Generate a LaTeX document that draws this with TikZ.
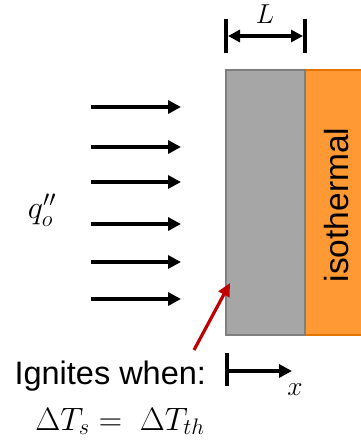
\documentclass[tikz,border=0pt]{standalone}
\usepackage{fontspec}
\setmainfont{Liberation Sans}
\usetikzlibrary{arrows.meta}
\definecolor{Slab}{HTML}{A6A6A6}
\definecolor{SlabEdge}{HTML}{7F7F7F}
\definecolor{Hot}{HTML}{FF9933}
\definecolor{HotEdge}{HTML}{E57300}
\definecolor{Pointer}{HTML}{C00000}
\tikzset{
  fluxarrow/.style={-{Triangle[length=13pt,width=13pt]},line width=3.8pt,draw=black},
  dimarrow/.style={{Triangle[length=12pt,width=12pt]}-{Triangle[length=12pt,width=12pt]},line width=3.4pt,draw=black},
  axisarrow/.style={-{Triangle[length=13pt,width=13pt]},line width=3.6pt,draw=black},
  tickbar/.style={line width=3.8pt,draw=black},
  redarrow/.style={-{Triangle[length=13pt,width=12pt]},line width=3.2pt,draw=Pointer},
  slabbox/.style={fill=Slab,draw=SlabEdge,line width=2pt},
  hotbox/.style={fill=Hot,draw=HotEdge,line width=2pt},
  bigtext/.style={font=\fontsize{32.5}{38}\selectfont},
  mathlabel/.style={font=\fontsize{24}{28}\selectfont,transform shape,scale=1.3},
  smallmath/.style={font=\fontsize{24}{28}\selectfont,transform shape,scale=1.1},
}

\begin{document}
\begin{tikzpicture}[x=1pt,y=-1pt]
    \clip (0,0) rectangle (361,442);
    \fill[white] (0,0) rectangle (361,442);

    % wall and slab
    \draw[hotbox] (305,70) rectangle (372,335);
    \draw[slabbox] (226,70) rectangle (305,335);
    \node[bigtext,font=\fontsize{33.5}{38}\selectfont,rotate=90] (iso) at (337,205) {isothermal};

    % incident flux
    \foreach \i/\yy in {1/107,2/147,3/182,4/224,5/262,6/299}{
      \coordinate (fs\i) at (91,\yy);
      \coordinate (fe\i) at (181,\yy);
      \draw[fluxarrow] (fs\i) -- (fe\i);
    }
    \node[mathlabel] (flux) at (42,210) {$q_o''$};

    % thickness
    \coordinate (lt1) at (226,19);
    \coordinate (lb1) at (226,53);
    \coordinate (lt2) at (305,19);
    \coordinate (lb2) at (305,53);
    \draw[tickbar] (lt1) -- (lb1);
    \draw[tickbar] (lt2) -- (lb2);
    \coordinate (ls) at (228,36);
    \coordinate (le) at (303,36);
    \draw[dimarrow] (ls) -- (le);
    \node[smallmath] (len) at (265,14) {$L$};

    % x axis
    \coordinate (xt) at (227,353);
    \coordinate (xb) at (227,386);
    \draw[tickbar] (xt) -- (xb);
    \coordinate (xo) at (227,371);
    \coordinate (xe) at (292,371);
    \draw[axisarrow] (xo) -- (xe);
    \node[smallmath] (xlab) at (295,390) {$x$};

    % ignition
    \coordinate (tail) at (194,350);
    \coordinate (ignite) at (230,283);
    \draw[redarrow] (tail) -- (ignite);
    \node[bigtext,anchor=base west] (ign) at (11,384) {Ignites when:};
    \node[mathlabel,anchor=base] (cond) at (120,430) {$\Delta T_s = \ \Delta T_{th}$};
  \end{tikzpicture}
\end{document}
